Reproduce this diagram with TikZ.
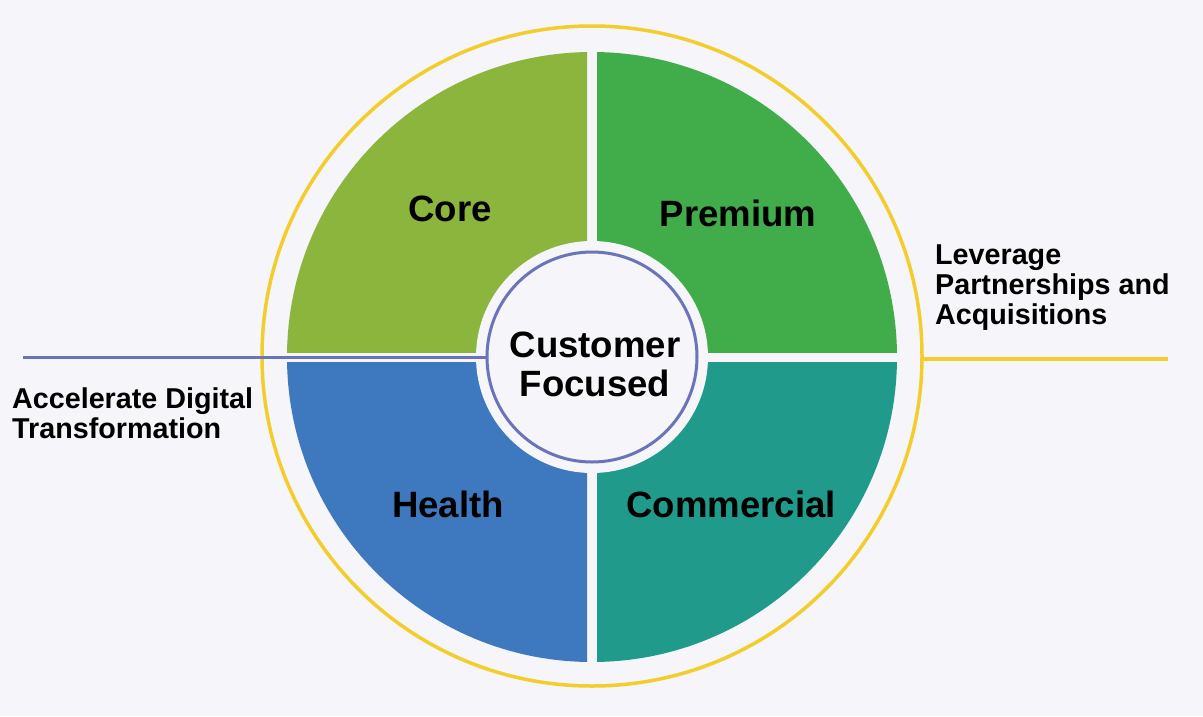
\documentclass[tikz,border=0pt]{standalone}
\usepackage{fontspec}
\setmainfont{Liberation Sans}
\definecolor{bgc}{HTML}{F6F5F9}
\definecolor{corec}{HTML}{8CB53E}
\definecolor{premc}{HTML}{41AC4A}
\definecolor{healc}{HTML}{3E78BE}
\definecolor{commc}{HTML}{209A8B}
\definecolor{ringy}{HTML}{F2CD2B}
\definecolor{ringb}{HTML}{6B74B9}
\tikzset{
  quadlabel/.style={font=\fontsize{36.6}{39}\selectfont\bfseries, text=black, inner sep=0pt},
  sidelabel/.style={font=\fontsize{28.7}{30}\selectfont\bfseries, text=black, inner sep=0pt, align=left, anchor=north west},
}
\begin{document}
\begin{tikzpicture}[x=1pt,y=-1pt]
  % canvas
  \fill[bgc] (0,0) rectangle (1203,716);
  \useasboundingbox (0,0) rectangle (1203,716);
  \coordinate (c) at (592,357);
  \coordinate (cy) at (592,356);

  % outer yellow ring
  \draw[ringy, line width=3.5pt] (cy) circle[radius=330pt];

  % four quadrants cut out of one disk
  \begin{scope}
    \clip (0,0) rectangle (587,352);
    \fill[corec] (c) circle[radius=305pt];
  \end{scope}
  \begin{scope}
    \clip (597,0) rectangle (1203,352);
    \fill[premc] (c) circle[radius=305pt];
  \end{scope}
  \begin{scope}
    \clip (0,362) rectangle (587,716);
    \fill[healc] (c) circle[radius=305pt];
  \end{scope}
  \begin{scope}
    \clip (597,362) rectangle (1203,716);
    \fill[commc] (c) circle[radius=305pt];
  \end{scope}

  % centre disk with blue ring
  \fill[bgc] (c) circle[radius=116pt];
  \draw[ringb, line width=3pt] (c) circle[radius=105pt];
  \coordinate (ringW) at (487,357);
  \coordinate (lineW) at (23,357);
  \draw[ringb, line width=3pt] (lineW) -- (ringW);

  % right yellow line
  \coordinate (yE) at (922,359);
  \coordinate (yF) at (1168,359);
  \draw[ringy, line width=3.5pt] (yE) -- (yF);

  % quadrant labels
  \node[quadlabel] (core) at (450,209) {Core};
  \node[quadlabel] (prem) at (738,213) {Premium};
  \node[quadlabel] (heal) at (448,504) {Health};
  \node[quadlabel] (comm) at (731,504) {Commercial};
  \node[quadlabel, align=center, anchor=north] (cust) at (595,332) {Customer\\Focused};

  % side labels
  \node[sidelabel] (adt) at (12,387) {Accelerate Digital\\Transformation};
  \node[sidelabel] (lpa) at (935,245) {Leverage\\Partnerships and\\Acquisitions};
\end{tikzpicture}
\end{document}
